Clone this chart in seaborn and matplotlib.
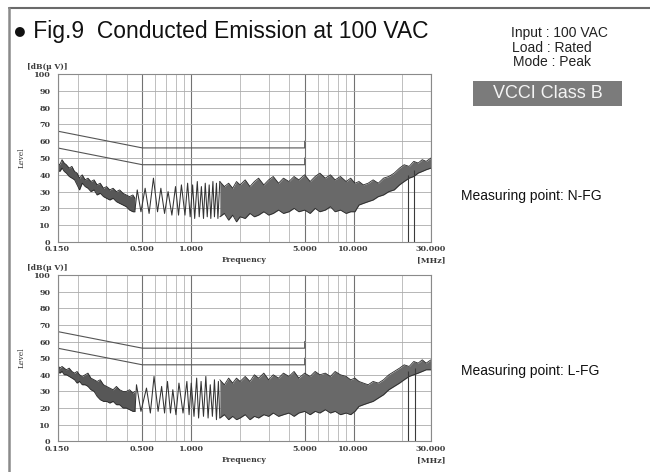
import matplotlib
matplotlib.use("Agg")
import matplotlib.pyplot as plt
import seaborn as sns
from matplotlib.lines import Line2D
from matplotlib.patches import Rectangle

# ---------------- data ----------------
x_major = [0.15, 0.5, 1.0, 5.0, 10.0, 30.0]
x_major_labels = ["0.150", "0.500", "1.000", "5.000", "10.000", "30.000"]
x_minor = [0.2, 0.3, 0.4, 0.6, 0.7, 0.8, 0.9, 2, 3, 4, 6, 7, 8, 9, 20]
y_ticks = [0, 10, 20, 30, 40, 50, 60, 70, 80, 90, 100]

# VCCI class B limits (quasi-peak and average)
lim_f = [0.15, 0.5, 5.0, 5.0]
lim_qp = [66, 56, 56, 60]
lim_av = [56, 46, 46, 50]

# low-frequency part of the trace (0.15 - 0.45 MHz)
low_f = [0.150, 0.155, 0.160, 0.165, 0.170, 0.177, 0.184, 0.191, 0.198, 0.205, 0.213, 0.222,
         0.231, 0.241, 0.252, 0.263, 0.275, 0.288, 0.301, 0.315, 0.330, 0.346, 0.362, 0.380,
         0.398, 0.417, 0.437, 0.450]
# dense part of the trace (1.5 - 30 MHz)
dense_f = [1.5, 1.6, 1.7, 1.8, 1.9, 2.0, 2.15, 2.3, 2.45, 2.6, 2.8, 3.0, 3.2, 3.45, 3.7, 4.0, 4.3,
           4.6, 5.0, 5.4, 5.8, 6.2, 6.7, 7.2, 7.7, 8.3, 9.0, 9.6, 10.2, 10.8, 11.5, 12.3, 13.2,
           14.2, 15.3, 16.5, 17.8, 19.2, 20.5, 22.0, 23.5, 25.0, 26.5, 28.0, 30.0]

# ---- N-FG (top) ----
top_low_hi = [47, 46, 49, 47, 46, 44, 45, 42, 41, 38, 40, 37, 38, 36, 37, 34, 35, 32, 33, 31, 32,
              30, 31, 29, 28, 27, 28, 26]
top_low_lo = [43, 42, 44, 42, 41, 39, 38, 37, 34, 31, 35, 33, 32, 30, 31, 28, 29, 27, 26, 25, 26,
              24, 23, 22, 21, 19, 18, 18]
top_comb_f = [0.450, 0.465, 0.490, 0.520, 0.550, 0.585, 0.620, 0.650, 0.685, 0.720, 0.760, 0.800,
              0.835, 0.870, 0.915, 0.950, 0.985, 1.02, 1.05, 1.09, 1.12, 1.155, 1.19, 1.22,
              1.255, 1.29, 1.32, 1.36, 1.39, 1.43, 1.46, 1.50]
top_comb_v = [19, 31, 18, 32, 17, 38, 18, 32, 17, 30, 16, 33, 16, 34, 16, 35, 15, 34, 14, 36, 15, 33,
              14, 35, 15, 34, 14, 36, 15, 35, 14, 36]
top_dense_hi = [36, 33, 35, 32, 36, 34, 37, 33, 36, 38, 34, 37, 39, 35, 38, 36, 39, 37, 40, 36, 39,
                41, 38, 40, 37, 39, 36, 38, 35, 36, 34, 35, 37, 35, 38, 39, 41, 44, 46, 45, 48, 47,
                49, 48, 50]
top_dense_lo = [15, 17, 13, 16, 12, 15, 14, 17, 15, 16, 18, 16, 17, 19, 17, 18, 20, 18, 19, 17, 20,
                18, 19, 21, 18, 19, 17, 18, 18, 22, 23, 24, 25, 27, 28, 30, 31, 34, 36, 38, 39, 41,
                42, 43, 44]
top_drop_f = [21.5, 23.5]
top_drop_top = [40, 43]

# ---- L-FG (bottom) ----
bot_low_hi = [46, 44, 45, 44, 43, 44, 42, 41, 42, 40, 39, 40, 41, 38, 37, 36, 37, 34, 33, 32, 31,
              33, 31, 30, 30, 31, 29, 30]
bot_low_lo = [42, 41, 42, 40, 40, 39, 38, 37, 35, 36, 34, 34, 33, 31, 30, 27, 25, 24, 24, 23, 24,
              22, 22, 20, 20, 19, 18, 18]
bot_comb_f = [0.450, 0.460, 0.490, 0.530, 0.560, 0.590, 0.625, 0.657, 0.685, 0.714, 0.745, 0.770,
              0.805, 0.840, 0.890, 0.940, 0.970, 1.00, 1.04, 1.08, 1.11, 1.15, 1.19, 1.23, 1.27,
              1.31, 1.35, 1.39, 1.43, 1.47, 1.50]
bot_comb_v = [18, 34, 18, 32, 17, 39, 18, 33, 17, 36, 17, 31, 16, 35, 17, 36, 16, 35, 15, 38, 14, 36,
              15, 39, 14, 34, 15, 37, 13, 36, 14]
bot_dense_hi = [37, 34, 38, 35, 38, 36, 39, 36, 40, 38, 41, 37, 40, 38, 41, 39, 42, 38, 41, 39, 42,
                40, 41, 39, 42, 40, 39, 37, 38, 36, 35, 34, 36, 35, 37, 40, 42, 44, 46, 45, 48, 47,
                49, 47, 49]
bot_dense_lo = [14, 16, 13, 15, 13, 14, 16, 13, 15, 14, 16, 15, 17, 15, 16, 17, 15, 17, 18, 16, 18,
                17, 19, 17, 18, 16, 17, 16, 18, 21, 22, 23, 24, 26, 28, 31, 33, 35, 37, 39, 40, 41,
                42, 43, 43]
bot_drop_f = [21.8, 24.0]
bot_drop_top = [42, 44]

# ---------------- style ----------------
sns.set_style("white")
plt.rcParams["font.family"] = ["Liberation Sans", "DejaVu Sans"]

W, H = 650, 472
fig = plt.figure(figsize=(W / 100, H / 100), dpi=100)
fig.patch.set_facecolor("white")

def fx(px):
    return px / W

def fy(py):
    return 1 - py / H

SERIF = ["DejaVu Serif"]
TXT = "#3a3a3a"

def panel(top_px, bot_px, low_hi, low_lo, comb_f, comb_v, dense_hi, dense_lo, drop_f, drop_top):
    left, right = 57.5, 431
    ax = fig.add_axes([fx(left), fy(bot_px), (right - left) / W, (bot_px - top_px) / H])
    ax.set_xscale("log")
    ax.set_xlim(0.15, 30)
    ax.set_ylim(0, 100)
    ax.set_facecolor("white")

    ax.set_xticks(x_major)
    ax.set_xticklabels(x_major_labels, fontfamily=SERIF, fontsize=5.8, fontweight="bold", color=TXT)
    ax.set_xticks(x_minor, minor=True)
    ax.set_xticklabels([], minor=True)
    ax.set_yticks(y_ticks)
    ax.set_yticklabels([str(v) for v in y_ticks], fontfamily=SERIF, fontsize=5.8,
                       fontweight="bold", color=TXT)
    ax.set_yticks(list(range(0, 101, 2)), minor=True)
    ax.tick_params(axis="x", which="both", length=0, pad=2.5)
    ax.tick_params(axis="y", which="major", length=0, pad=5)
    ax.tick_params(axis="y", which="minor", direction="in", length=2, width=0.5, color="#888888")

    ax.grid(True, which="major", axis="x", color="#727272", lw=0.8)
    ax.grid(True, which="minor", axis="x", color="#b4b4b4", lw=0.6)
    ax.grid(True, which="major", axis="y", color="#ababab", lw=0.6)
    for s in ax.spines.values():
        s.set_color("#8a8a8a")
        s.set_linewidth(0.8)

    # limits
    sns.lineplot(x=lim_f, y=lim_qp, ax=ax, color="#555555", lw=0.8, sort=False, estimator=None)
    sns.lineplot(x=lim_f, y=lim_av, ax=ax, color="#555555", lw=0.8, sort=False, estimator=None)

    # measured trace
    ax.fill_between(low_f, low_lo, low_hi, color="#575757", lw=0)
    sns.lineplot(x=low_f, y=low_hi, ax=ax, color="#262626", lw=0.6, estimator=None)
    sns.lineplot(x=low_f, y=low_lo, ax=ax, color="#262626", lw=0.6, estimator=None)
    sns.lineplot(x=comb_f, y=comb_v, ax=ax, color="#333333", lw=0.75, sort=False, estimator=None)
    ax.fill_between(dense_f, dense_lo, dense_hi, color="#696969", lw=0)
    sns.lineplot(x=dense_f, y=dense_hi, ax=ax, color="#2a2a2a", lw=0.6, estimator=None)
    sns.lineplot(x=dense_f, y=dense_lo, ax=ax, color="#2a2a2a", lw=0.6, estimator=None)
    ax.vlines(drop_f, 0, drop_top, color="#3a3a3a", lw=0.8)
    ax.set_xlabel("")
    ax.set_ylabel("")

    # axis texts
    fig.text(fx(26.7), fy(top_px - 7), "[dB(μ V)]", fontfamily=SERIF, fontsize=5.5,
             fontweight="bold", color=TXT, ha="left", va="center")
    fig.text(fx(22), fy((top_px + bot_px) / 2), "Level", fontfamily=SERIF, fontsize=5.5,
             color=TXT, rotation=90, ha="center", va="center")
    fig.text(fx(244), fy(bot_px + 18.5), "Frequency", fontfamily=SERIF, fontsize=5.5,
             fontweight="bold", color=TXT, ha="center", va="center")
    fig.text(fx(431), fy(bot_px + 18.5), "[MHz]", fontfamily=SERIF, fontsize=5.8,
             fontweight="bold", color=TXT, ha="center", va="center")
    return ax

panel(74, 242, top_low_hi, top_low_lo, top_comb_f, top_comb_v,
      top_dense_hi, top_dense_lo, top_drop_f, top_drop_top)
panel(275, 441.3, bot_low_hi, bot_low_lo, bot_comb_f, bot_comb_v,
      bot_dense_hi, bot_dense_lo, bot_drop_f, bot_drop_top)

# frame lines (top and left)
fig.add_artist(Line2D([fx(9), 1], [fy(8), fy(8)], color="#6a6a6a", lw=1.5))
fig.add_artist(Line2D([fx(9), fx(9)], [fy(8), 0], color="#8a8a8a", lw=1.8))

# title and annotations
fig.text(fx(13), fy(38), "● Fig.9  Conducted Emission at 100 VAC", fontsize=16.5,
         color="#111111", ha="left", va="baseline")
fig.text(fx(511), fy(33), "Input : 100 VAC", fontsize=10, color="#222222", ha="left", va="center")
fig.text(fx(512), fy(47.5), "Load : Rated", fontsize=10, color="#222222", ha="left", va="center")
fig.text(fx(513), fy(61.5), "Mode : Peak", fontsize=10, color="#222222", ha="left", va="center")
fig.add_artist(Rectangle((fx(473), fy(106)), 149 / W, 25 / H, transform=fig.transFigure,
                         facecolor="#7b7b7b", edgecolor="none"))
fig.text(fx(547.5), fy(93.5), "VCCI Class B", fontsize=13, color="#f4f4f4", ha="center", va="center")
fig.text(fx(461), fy(196), "Measuring point: N-FG", fontsize=10, color="#111111", ha="left", va="center")
fig.text(fx(461), fy(371), "Measuring point: L-FG", fontsize=10, color="#111111", ha="left", va="center")

fig.savefig("out.png", dpi=100, facecolor="white")
